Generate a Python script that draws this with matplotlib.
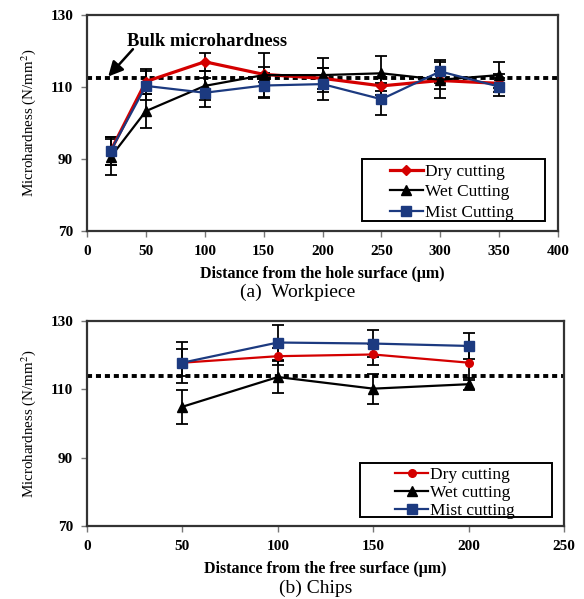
import matplotlib.pyplot as plt
from matplotlib.patches import Rectangle
import numpy as np

plt.rcParams['font.family'] = ['Liberation Serif', 'DejaVu Serif']
plt.rcParams['mathtext.fontset'] = 'stix'

# (a) Workpiece
x_wp = [20, 50, 100, 150, 200, 250, 300, 350]
dry_wp = [92.2, 111.5, 117.0, 113.5, 112.4, 110.3, 111.8, 111.0]
dry_wp_err = [4.0, 3.5, 2.5, 2.0, 3.0, 2.5, 2.5, 2.5]
wet_wp = [90.5, 103.3, 110.3, 113.3, 113.3, 113.8, 112.0, 113.3]
wet_wp_err = [5.0, 4.7, 4.0, 6.2, 4.8, 4.8, 5.0, 3.7]
mist_wp = [92.2, 110.3, 108.4, 110.4, 110.8, 106.6, 114.3, 110.1]
mist_wp_err = [4.0, 4.0, 4.0, 3.5, 4.5, 4.5, 3.2, 2.5]
bulk_wp = 112.5

# (b) Chips
x_ch = [50, 100, 150, 200]
dry_ch = [117.8, 119.7, 120.2, 117.8]
dry_ch_err = [4.0, 2.5, 3.0, 5.0]
wet_ch = [104.9, 113.6, 110.2, 111.5]
wet_ch_err = [5.0, 4.8, 4.4, 1.7]
mist_ch = [117.8, 123.7, 123.4, 122.7]
mist_ch_err = [6.0, 5.0, 4.0, 3.8]
bulk_ch = 113.8

red = '#d40000'
navy = '#1c3a80'

fig = plt.figure(figsize=(5.84, 5.99), dpi=100)
fig.patch.set_facecolor('white')

ax1 = fig.add_axes([0.149, 0.6144, 0.8065, 0.3606])
ax2 = fig.add_axes([0.149, 0.1219, 0.8168, 0.3422])


def style_axes(ax, xmax, xstep):
    ax.set_ylim(70, 130)
    ax.set_yticks([70, 90, 110, 130])
    ax.set_xlim(0, xmax)
    ax.set_xticks(np.arange(0, xmax + 1, xstep))
    for s in ax.spines.values():
        s.set_linewidth(1.6)
        s.set_color('#333333')
    ax.tick_params(direction='out', length=4, width=1.0, color='#777777',
                   labelsize=11, pad=6)
    for lab in ax.get_xticklabels() + ax.get_yticklabels():
        lab.set_fontweight('bold')
    ax.set_ylabel('Microhardness (N/mm$^2$)', fontsize=10.8, labelpad=9)


def draw_series(ax, x, y, err, color, marker, ms, lw, label):
    ax.errorbar(x, y, yerr=err, fmt='none', ecolor='black', elinewidth=1.3,
                capsize=4, capthick=1.3, zorder=2)
    line, = ax.plot(x, y, color=color, marker=marker, markersize=ms,
                    linewidth=lw, label=label, zorder=3)
    return line


def boxed_legend(ax, handles, anchor, rect, spacing):
    ax.legend(handles=handles, loc='upper left', bbox_to_anchor=anchor,
              fontsize=12.5, frameon=False, borderpad=0, borderaxespad=0,
              handlelength=1.9, handletextpad=0.1, labelspacing=spacing)
    ax.add_patch(Rectangle(rect[:2], rect[2], rect[3], transform=ax.transAxes,
                           fill=False, edgecolor='black', linewidth=1.4, zorder=5))


# top panel
ax1.axhline(bulk_wp, color='black', linestyle=(0, (1.3, 1.0)), linewidth=2.8, zorder=1)
h1 = draw_series(ax1, x_wp, dry_wp, dry_wp_err, red, 'D', 5, 2.3, 'Dry cutting')
h2 = draw_series(ax1, x_wp, wet_wp, wet_wp_err, 'black', '^', 7, 1.6, 'Wet Cutting')
h3 = draw_series(ax1, x_wp, mist_wp, mist_wp_err, navy, 's', 7.5, 1.6, 'Mist Cutting')
style_axes(ax1, 400, 50)
ax1.set_xlabel('Distance from the hole surface (\u03bcm)', fontsize=11.5,
               fontweight='bold', labelpad=6)
ax1.text(34, 122.5, 'Bulk microhardness', fontsize=13.3, fontweight='bold',
         ha='left', va='center')
ax1.annotate('', xy=(18.0, 112.9), xytext=(39.0, 120.5),
             arrowprops=dict(arrowstyle='-|>', color='black', lw=1.8,
                             mutation_scale=22, shrinkA=0, shrinkB=0))
boxed_legend(ax1, [h1, h2, h3], (0.643, 0.312), (0.584, 0.046, 0.388, 0.287), 0.25)
fig.text(0.51, 0.512, '(a)  Workpiece', ha='center', va='center', fontsize=14)

# bottom panel
ax2.axhline(bulk_ch, color='black', linestyle=(0, (1.3, 1.0)), linewidth=2.8, zorder=1)
g1 = draw_series(ax2, x_ch, dry_ch, dry_ch_err, red, 'o', 5.5, 1.6, 'Dry cutting')
g2 = draw_series(ax2, x_ch, wet_ch, wet_ch_err, 'black', '^', 7.5, 1.6, 'Wet cutting')
g3 = draw_series(ax2, x_ch, mist_ch, mist_ch_err, navy, 's', 7.5, 1.6, 'Mist cutting')
style_axes(ax2, 250, 50)
ax2.set_xlabel('Distance from the free surface (\u03bcm)', fontsize=11.5,
               fontweight='bold', labelpad=6)
boxed_legend(ax2, [g1, g2, g3], (0.646, 0.29), (0.572, 0.044, 0.403, 0.263), 0.12)
fig.text(0.54, 0.018, '(b) Chips', ha='center', va='center', fontsize=14)

plt.savefig('out.png', dpi=100, facecolor='white')
